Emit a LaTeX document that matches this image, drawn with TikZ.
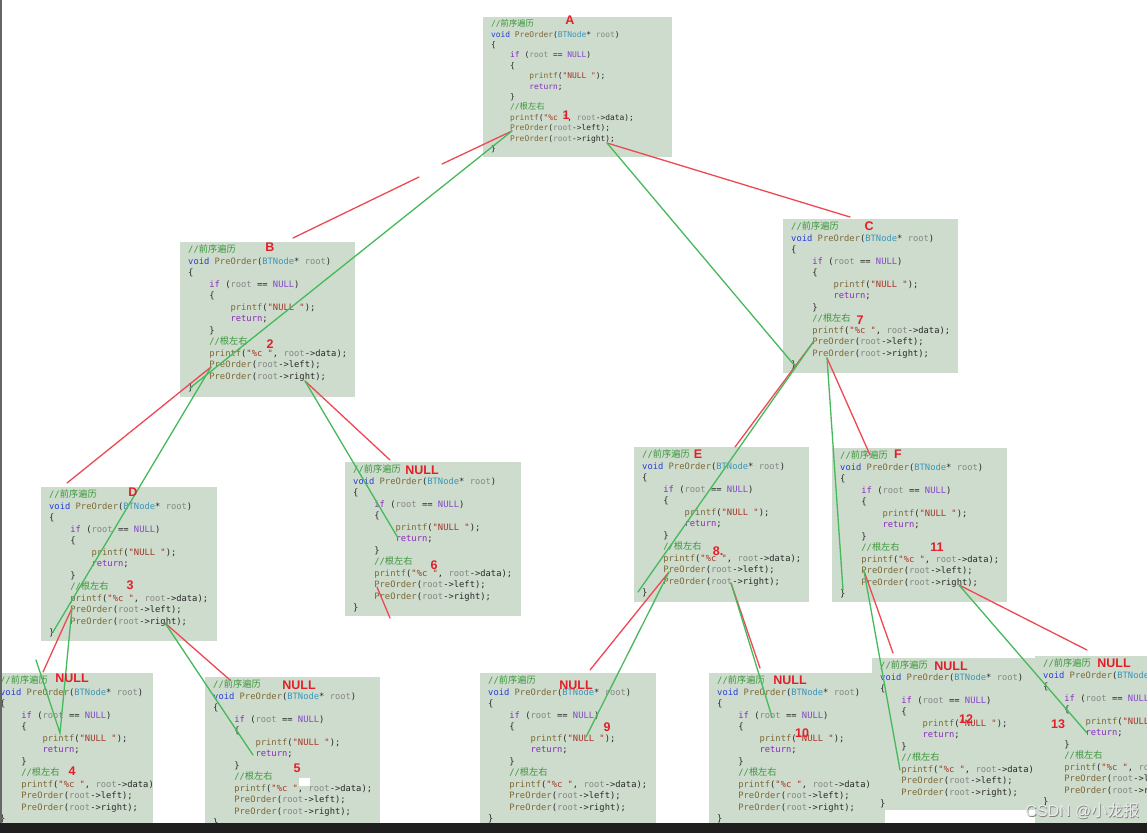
\documentclass[tikz,border=0pt]{standalone}
\usepackage{fontspec}
\setmainfont{Liberation Sans}
\setmonofont{DejaVu Sans Mono}
\newfontfamily\cjk{Noto Sans CJK SC}[Scale=1.05]
\newfontfamily\cjkmark{Noto Sans CJK SC}
\usetikzlibrary{calc}

\definecolor{boxbg}{RGB}{205,220,205}
\definecolor{cmtgreen}{RGB}{60,150,60}
\definecolor{kwblue}{RGB}{40,60,215}
\definecolor{ctlpurple}{RGB}{140,40,190}
\definecolor{fnbrown}{RGB}{125,105,55}
\definecolor{tyteal}{RGB}{60,150,185}
\definecolor{pagray}{RGB}{135,135,135}
\definecolor{macpurple}{RGB}{135,70,200}
\definecolor{strred}{RGB}{165,55,40}
\definecolor{plain}{RGB}{40,40,40}
\definecolor{callred}{RGB}{238,72,82}
\definecolor{retgreen}{RGB}{70,185,90}
\definecolor{lblred}{RGB}{228,30,40}

\newcommand\ind{\hphantom{0000}}
\newcommand\cmt[1]{\textcolor{cmtgreen}{#1}}
\newcommand\kw[1]{\textcolor{kwblue}{#1}}
\newcommand\ctl[1]{\textcolor{ctlpurple}{#1}}
\newcommand\fn[1]{\textcolor{fnbrown}{#1}}
\newcommand\ty[1]{\textcolor{tyteal}{#1}}
\newcommand\pa[1]{\textcolor{pagray}{#1}}
\newcommand\mac[1]{\textcolor{macpurple}{#1}}
\newcommand\str[1]{\textcolor{strred}{#1}}

% the same function body in every box
\newcommand\codetext{%
\cmt{//{\cjk 前序遍历}}\\
\kw{void} \fn{PreOrder}(\ty{BTNode}* \pa{root})\\
\{\\
\ind\ctl{if} (\pa{root} == \mac{NULL})\\
\ind\{\\
\ind\ind\fn{printf}(\str{"NULL "});\\
\ind\ind\ctl{return};\\
\ind\}\\
\ind\cmt{//{\cjk 根左右}}\\
\ind\fn{printf}(\str{"\%c "}, \pa{root}->data);\\
\ind\fn{PreOrder}(\pa{root}->left);\\
\ind\fn{PreOrder}(\pa{root}->right);\\
\}}

% #1 font, #2 name, #3 x, #4 y, #5 width, #6 height
\newcommand\codebox[6][]{%
  \begin{scope}
    \clip (#3,#4) rectangle ++(#5,#6);
    \fill[boxbg] (#3,#4) rectangle ++(#5,#6);
    \node[codetxt,#1] (#2) at ($(#3,#4)+(8,2.5)$) {\codetext};
  \end{scope}}

\tikzset{
  codetxt/.style={anchor=north west,align=left,inner sep=0pt,text=plain,
    font=\ttfamily\fontsize{8.8}{11.5}\selectfont},
  smallcode/.style={font=\ttfamily\fontsize{7.9}{10.4}\selectfont},
  lbl/.style={text=lblred,inner sep=0pt,font=\bfseries\fontsize{12.5}{12.5}\selectfont},
  callline/.style={draw=callred,line width=1.3pt,line cap=round},
  retline/.style={draw=retgreen,line width=1.3pt,line cap=round}
}

\begin{document}
\begin{tikzpicture}[x=1pt,y=-1pt]
  \useasboundingbox (0,0) rectangle (1147,833);
  \clip (0,0) rectangle (1147,833);
  \fill[white] (0,0) rectangle (1147,833);

  % code boxes
  \codebox[smallcode]{A}{483}{17}{189}{140}
  \codebox{B}{180}{242}{175}{155}
  \codebox{C}{783}{219}{175}{154}
  \codebox{D}{41}{487}{176}{154}
  \codebox{N6}{345}{462}{176}{154}
  \codebox{E}{634}{447}{175}{155}
  \codebox{F}{832}{448}{175}{154}
  \codebox{N4}{-8}{673}{161}{150}
  \codebox{N5}{205}{677}{175}{150}
  \codebox{N9}{480}{673}{176}{150}
  \codebox{N10}{709}{673}{176}{150}
  \codebox{N12}{872}{658}{163}{152}
  \codebox{N13}{1035}{656}{175}{170}

  % end points of the strokes
  \coordinate (Aleft) at (512,131);
  \coordinate (Aright) at (607,143);
  \coordinate (gapA) at (442,164);
  \coordinate (gapB) at (419,177);
  \coordinate (Btop) at (293,238);
  \coordinate (Bend) at (190,388);
  \coordinate (Bleft) at (211,367);
  \coordinate (Bright) at (305,381);
  \coordinate (Ctop) at (850,217);
  \coordinate (Cend) at (795,366);
  \coordinate (Cleft) at (814,341);
  \coordinate (Cright) at (827,358);
  \coordinate (Dtop) at (67,483);
  \coordinate (Dend) at (53,632);
  \coordinate (Dleft) at (72,608);
  \coordinate (Dright) at (165,623);
  \coordinate (Etop) at (735,447);
  \coordinate (Eend) at (638,592);
  \coordinate (Eleft) at (669,572);
  \coordinate (Eright) at (731,583);
  \coordinate (Ftop) at (870,455);
  \coordinate (Fend) at (843,590);
  \coordinate (Fleft) at (864,571);
  \coordinate (Fright) at (959,585);
  \coordinate (N6top) at (390,460);
  \coordinate (N6ret) at (398,538);
  \coordinate (N6left) at (377,587);
  \coordinate (N6out) at (390,618);
  \coordinate (N4top) at (43,672);
  \coordinate (N4ret) at (60,733);
  \coordinate (N4back) at (36,660);
  \coordinate (N5top) at (230,680);
  \coordinate (N5ret) at (253,755);
  \coordinate (N9top) at (590,670);
  \coordinate (N9ret) at (586,737);
  \coordinate (N10top) at (760,668);
  \coordinate (N10ret) at (772,717);
  \coordinate (N12top) at (893,653);
  \coordinate (N12ret) at (900,770);
  \coordinate (N13top) at (1087,650);
  \coordinate (N13ret) at (1087,733);

  % calls
  \draw[callline] (Aleft) -- (gapA);
  \draw[callline] (gapB) -- (Btop);
  \draw[callline] (Aright) -- (Ctop);
  \draw[callline] (Bleft) -- (Dtop);
  \draw[callline] (Bright) -- (N6top);
  \draw[callline] (N6left) -- (N6out);
  \draw[callline] (Dleft) -- (N4top);
  \draw[callline] (Dright) -- (N5top);
  \draw[callline] (Cleft) -- (Etop);
  \draw[callline] (Cright) -- (Ftop);
  \draw[callline] (Eleft) -- (N9top);
  \draw[callline] (Eright) -- (N10top);
  \draw[callline] (Fleft) -- (N12top);
  \draw[callline] (Fright) -- (N13top);

  % returns
  \draw[retline] (Aleft) -- (Bend);
  \draw[retline] (Aright) -- (Cend);
  \draw[retline] (Bleft) -- (Dend);
  \draw[retline] (Bright) -- (N6ret);
  \draw[retline] (Dleft) -- (N4ret) -- (N4back);
  \draw[retline] (Dright) -- (N5ret);
  \draw[retline] (Cleft) -- (Eend);
  \draw[retline] (Cright) -- (Fend);
  \draw[retline] (Eleft) -- (N9ret);
  \draw[retline] (Eright) -- (N10ret);
  \draw[retline] (Fleft) -- (N12ret);
  \draw[retline] (Fright) -- (N13ret);

  % red labels
  \node[lbl] (lA) at (570,20) {A};
  \node[lbl] (l1) at (566,115) {1};
  \node[lbl] (lB) at (270,247) {B};
  \node[lbl] (l2) at (270,344) {2};
  \node[lbl] (lC) at (869,226) {C};
  \node[lbl] (l7) at (860,320) {7};
  \node[lbl] (lD) at (133,492) {D};
  \node[lbl] (l3) at (130,585) {3};
  \node[lbl] (lN6) at (422,470) {NULL};
  \node[lbl] (l6) at (434,565) {6};
  \node[lbl] (lE) at (698,454) {E};
  \node[lbl] (l8) at (718,551) {8.};
  \node[lbl] (lF) at (898,454) {F};
  \node[lbl] (l11) at (937,547) {11};
  \node[lbl] (lN4) at (72,678) {NULL};
  \node[lbl] (l4) at (72,771) {4};
  \node[lbl] (lN5) at (299,685) {NULL};
  \node[lbl] (l5) at (297,768) {5};
  \fill[white] (299,778) rectangle (310,786);
  \node[lbl] (lN9) at (576,685) {NULL};
  \node[lbl] (l9) at (607,727) {9};
  \node[lbl] (lN10) at (790,680) {NULL};
  \node[lbl] (l10) at (802,733) {10};
  \node[lbl] (lN12) at (951,666) {NULL};
  \node[lbl] (l12) at (966,719) {12};
  \node[lbl] (lN13) at (1114,663) {NULL};
  \node[lbl] (l13) at (1058,724) {13};

  % frame of the screenshot
  \fill[black!60] (0,0) rectangle (1.8,833);
  \fill[black!88] (0,823) rectangle (1147,833);
  \node[text=black!50,font=\fontsize{16}{16}\selectfont,anchor=east] at (1143.7,811.7) {CSDN @{\cjkmark 小龙报}};
  \node[text=white!92!black,font=\fontsize{16}{16}\selectfont,anchor=east] (mark) at (1143,811) {CSDN @{\cjkmark 小龙报}};
\end{tikzpicture}
\end{document}
